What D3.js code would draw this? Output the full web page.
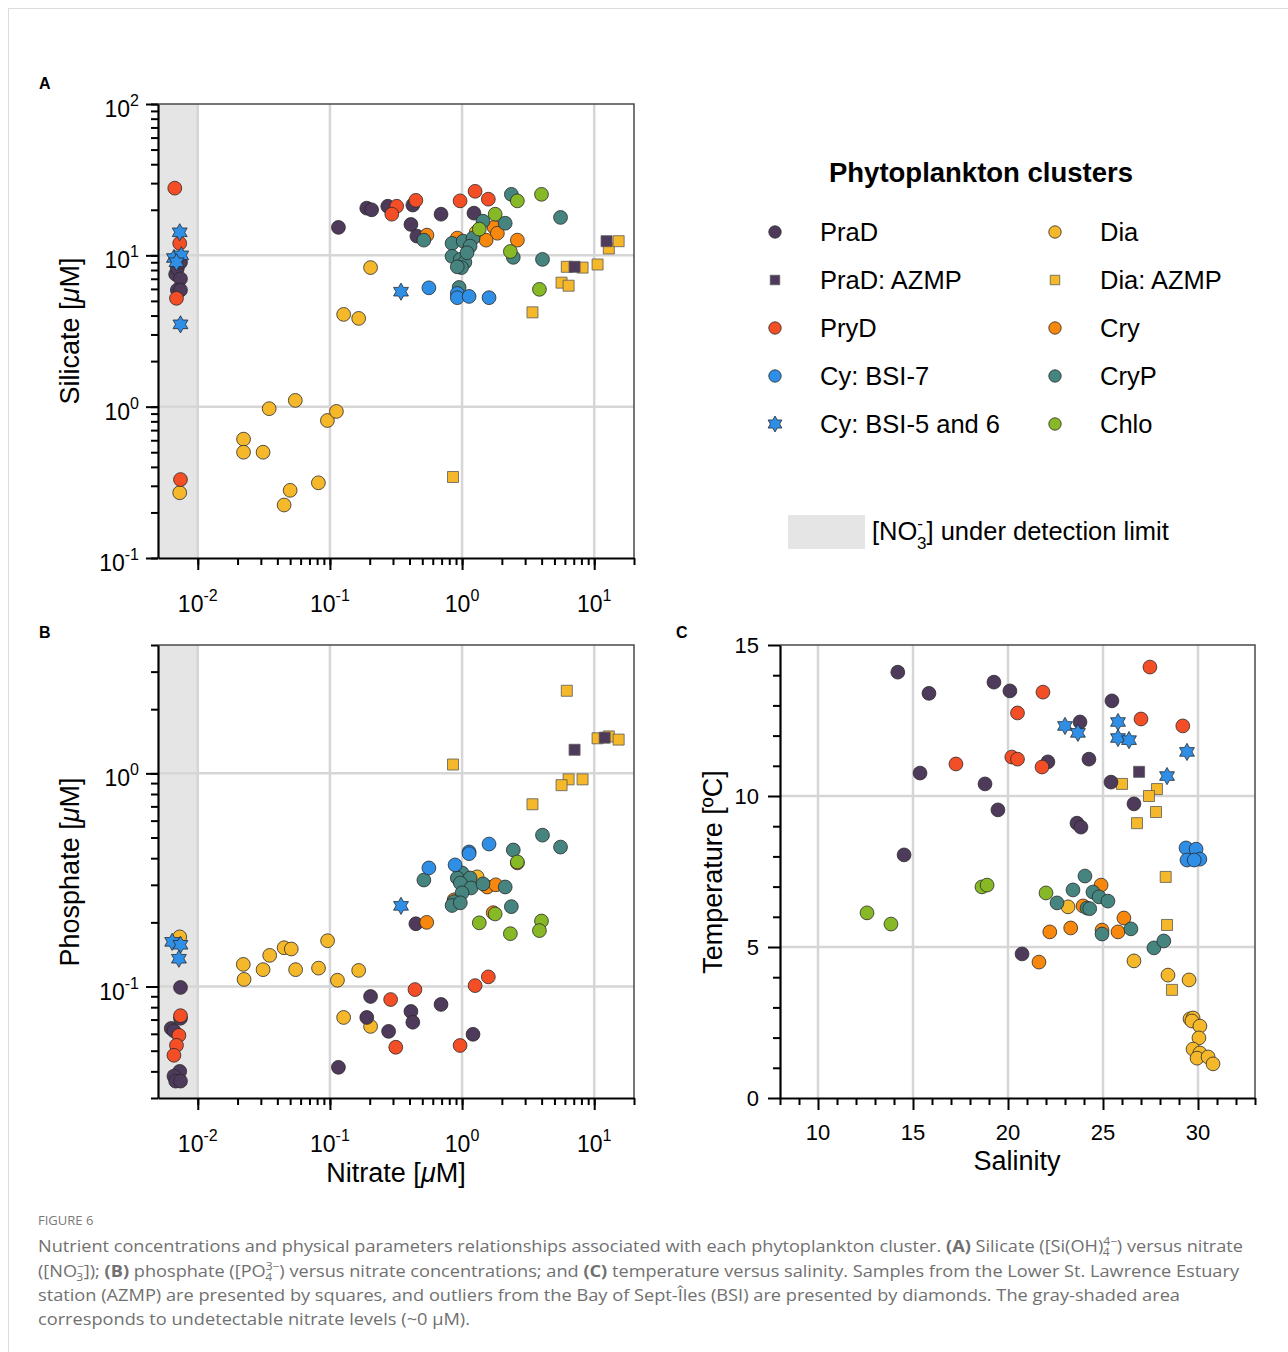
<!DOCTYPE html>
<html><head><meta charset="utf-8">
<script src="https://cdn.jsdelivr.net/npm/d3@7"></script>
<style>body{margin:0;background:#fff;} svg{display:block;font-family:"Liberation Sans",Arial,sans-serif;}</style>
</head><body><svg id="c" width="1288" height="1352"></svg>
<script>
// ---------- categories ----------
const clusters = ["PraD","PraD: AZMP","PryD","Cy: BSI-7","Cy: BSI-5 and 6","Dia","Dia: AZMP","Cry","CryP","Chlo"];
const clusterColors = ["#4e3a5a","#4e3a5a","#f44e27","#2f8ee5","#2f8ee5","#f5b82b","#f5b82b","#f8870d","#45847f","#87b826"];
const clusterShapes = ["circle","square","circle","circle","star","circle","square","circle","circle","circle"];
const drawOrder = ["Dia","Dia: AZMP","PraD","PraD: AZMP","PryD","Cry","CryP","Cy: BSI-7","Chlo","Cy: BSI-5 and 6"];

// ---------- Panel A: [cluster, nitrate µM, silicate µM] ----------
const silicateVsNitrate = [
 ["PraD",0.0068,7.5],["PraD",0.0070,8.2],["PraD",0.0074,9.0],["PraD",0.0074,7.0],["PraD",0.0070,5.9],["PraD",0.0074,5.9],
 ["PraD",0.116,15.3],["PraD",0.19,20.5],["PraD",0.207,20.0],["PraD",0.274,21.1],["PraD",0.424,21.5],["PraD",0.41,16.0],["PraD",0.455,13.4],["PraD",0.693,18.7],["PraD",1.23,19.0],
 ["PraD: AZMP",7.1,8.4],["PraD: AZMP",12.4,12.4],
 ["PryD",0.0067,27.8],["PryD",0.0073,12.0],["PryD",0.0069,5.2],["PryD",0.0074,0.33],["PryD",0.32,21.1],["PryD",0.294,18.7],["PryD",0.447,23.1],["PryD",0.966,22.9],["PryD",1.255,26.5],["PryD",1.58,23.5],
 ["Cy: BSI-7",0.561,6.1],["Cy: BSI-7",0.92,5.6],["Cy: BSI-7",0.92,5.25],["Cy: BSI-7",1.13,5.35],["Cy: BSI-7",1.6,5.25],
 ["Cy: BSI-5 and 6",0.0073,14.2],["Cy: BSI-5 and 6",0.0066,9.6],["Cy: BSI-5 and 6",0.0075,10.0],["Cy: BSI-5 and 6",0.0069,9.0],["Cy: BSI-5 and 6",0.0074,3.5],["Cy: BSI-5 and 6",0.345,5.75],
 ["Dia",0.0073,0.27],["Dia",0.0222,0.61],["Dia",0.0222,0.50],["Dia",0.0312,0.50],["Dia",0.0347,0.97],["Dia",0.0547,1.1],["Dia",0.050,0.28],["Dia",0.045,0.224],["Dia",0.0818,0.314],["Dia",0.0957,0.81],["Dia",0.112,0.93],["Dia",0.203,8.3],["Dia",0.127,4.07],["Dia",0.165,3.83],["Dia",1.28,14.2],
 ["Dia: AZMP",0.854,0.343],["Dia: AZMP",3.41,4.2],["Dia: AZMP",5.66,6.6],["Dia: AZMP",6.4,6.3],["Dia: AZMP",6.2,8.4],["Dia: AZMP",8.16,8.3],["Dia: AZMP",10.6,8.7],["Dia: AZMP",12.9,11.1],["Dia: AZMP",15.3,12.4],
 ["Cry",0.542,13.6],["Cry",1.75,15.3],["Cry",1.85,14.0],["Cry",1.52,12.6],["Cry",2.62,12.6],["Cry",0.92,13.0],
 ["CryP",0.514,12.6],["CryP",2.36,25.3],["CryP",5.56,17.8],["CryP",1.44,16.8],["CryP",2.12,16.3],["CryP",0.84,12.0],["CryP",1.02,12.4],["CryP",1.21,13.0],["CryP",1.15,11.5],["CryP",0.84,9.85],["CryP",0.97,9.4],["CryP",1.05,9.0],["CryP",0.99,8.3],["CryP",0.92,8.4],["CryP",1.09,10.4],["CryP",2.44,9.7],["CryP",4.06,9.4],["CryP",0.95,6.13],
 ["Chlo",2.62,22.9],["Chlo",3.99,25.3],["Chlo",1.78,18.7],["Chlo",1.35,14.9],["Chlo",2.32,10.6],["Chlo",3.85,5.96]
];

// ---------- Panel B: [cluster, nitrate µM, phosphate µM] ----------
const phosphateVsNitrate = [
 ["PraD",0.0074,0.099],["PraD",0.0074,0.071],["PraD",0.0063,0.0636],["PraD",0.0066,0.062],["PraD",0.0073,0.040],["PraD",0.0066,0.038],["PraD",0.0068,0.036],["PraD",0.0074,0.036],
 ["PraD",0.116,0.0418],["PraD",0.203,0.0898],["PraD",0.19,0.0716],["PraD",0.278,0.0616],["PraD",0.41,0.0764],["PraD",0.424,0.068],["PraD",0.693,0.0824],["PraD",1.21,0.0597],["PraD",0.447,0.197],
 ["PraD: AZMP",7.1,1.29],["PraD: AZMP",12.0,1.47],
 ["PryD",0.0074,0.073],["PryD",0.0072,0.059],["PryD",0.0069,0.053],["PryD",0.0066,0.0476],["PryD",0.288,0.0869],["PryD",0.315,0.0519],["PryD",0.44,0.0968],["PryD",0.966,0.0529],["PryD",1.255,0.101],["PryD",1.58,0.111],
 ["Cy: BSI-7",1.6,0.466],["Cy: BSI-7",1.13,0.428],["Cy: BSI-7",1.13,0.42],["Cy: BSI-7",0.561,0.36],["Cy: BSI-7",0.885,0.372],
 ["Cy: BSI-5 and 6",0.0064,0.162],["Cy: BSI-5 and 6",0.0074,0.157],["Cy: BSI-5 and 6",0.0072,0.135],["Cy: BSI-5 and 6",0.345,0.239],
 ["Dia",0.0073,0.171],["Dia",0.0221,0.127],["Dia",0.0224,0.108],["Dia",0.0312,0.12],["Dia",0.035,0.14],["Dia",0.045,0.152],["Dia",0.051,0.15],["Dia",0.055,0.12],["Dia",0.082,0.122],["Dia",0.096,0.164],["Dia",0.114,0.107],["Dia",0.165,0.119],["Dia",0.127,0.0716],["Dia",0.203,0.065],["Dia",1.3,0.327],
 ["Dia: AZMP",6.2,2.44],["Dia: AZMP",10.6,1.46],["Dia: AZMP",12.9,1.49],["Dia: AZMP",15.3,1.44],["Dia: AZMP",0.854,1.10],["Dia: AZMP",6.4,0.937],["Dia: AZMP",8.16,0.937],["Dia: AZMP",5.66,0.88],["Dia: AZMP",3.41,0.716],
 ["Cry",0.54,0.2],["Cry",1.72,0.222],["Cry",1.55,0.293],["Cry",1.8,0.3],["Cry",0.87,0.255],["Cry",2.62,0.38],
 ["CryP",2.36,0.237],["CryP",4.06,0.513],["CryP",5.56,0.451],["CryP",2.44,0.437],["CryP",0.514,0.316],["CryP",1.0,0.341],["CryP",0.92,0.323],["CryP",1.15,0.323],["CryP",0.97,0.306],["CryP",1.17,0.29],["CryP",1.44,0.303],["CryP",2.12,0.293],["CryP",1.0,0.275],["CryP",0.87,0.25],["CryP",0.84,0.24],["CryP",0.97,0.247],
 ["Chlo",1.35,0.199],["Chlo",1.78,0.219],["Chlo",2.32,0.177],["Chlo",3.99,0.203],["Chlo",3.85,0.183],["Chlo",2.62,0.384]
];

// ---------- Panel C: [cluster, salinity, temperature °C] ----------
const temperatureVsSalinity = [
 ["PraD",14.2,14.1],["PraD",15.84,13.4],["PraD",19.26,13.77],["PraD",20.1,13.48],["PraD",25.47,13.15],["PraD",23.79,12.45],["PraD",22.1,11.13],["PraD",24.26,11.22],["PraD",15.37,10.76],["PraD",18.79,10.4],["PraD",25.42,10.46],["PraD",19.47,9.54],["PraD",26.63,9.74],["PraD",23.63,9.1],["PraD",23.84,8.97],["PraD",14.53,8.05],["PraD",20.74,4.77],
 ["PraD: AZMP",26.9,10.8],
 ["PryD",27.47,14.27],["PryD",21.84,13.44],["PryD",20.5,12.75],["PryD",27.0,12.55],["PryD",29.2,12.32],["PryD",20.2,11.29],["PryD",20.5,11.22],["PryD",17.26,11.06],["PryD",21.79,10.96],
 ["Cy: BSI-7",29.37,8.28],["Cy: BSI-7",29.9,8.24],["Cy: BSI-7",29.42,7.88],["Cy: BSI-7",30.1,7.91],["Cy: BSI-7",29.8,7.88],
 ["Cy: BSI-5 and 6",23.0,12.32],["Cy: BSI-5 and 6",23.68,12.09],["Cy: BSI-5 and 6",25.79,12.45],["Cy: BSI-5 and 6",25.79,11.92],["Cy: BSI-5 and 6",26.37,11.85],["Cy: BSI-5 and 6",29.42,11.46],["Cy: BSI-5 and 6",28.37,10.66],
 ["Dia",23.16,6.33],["Dia",26.63,4.54],["Dia",28.42,4.07],["Dia",29.53,3.91],["Dia",29.58,2.62],["Dia",29.74,2.65],["Dia",29.68,2.55],["Dia",30.1,2.38],["Dia",30.05,1.99],["Dia",29.74,1.62],["Dia",30.1,1.49],["Dia",29.95,1.32],["Dia",30.53,1.36],["Dia",30.79,1.13],
 ["Dia: AZMP",26.0,10.4],["Dia: AZMP",27.84,10.23],["Dia: AZMP",27.42,10.0],["Dia: AZMP",27.79,9.47],["Dia: AZMP",26.79,9.1],["Dia: AZMP",28.3,7.32],["Dia: AZMP",28.37,5.73],["Dia: AZMP",28.63,3.58],
 ["Cry",24.9,7.05],["Cry",23.95,6.36],["Cry",26.1,5.96],["Cry",22.2,5.5],["Cry",23.3,5.63],["Cry",24.95,5.56],["Cry",25.79,5.5],["Cry",21.63,4.5],
 ["CryP",24.05,7.35],["CryP",23.42,6.89],["CryP",24.47,6.82],["CryP",24.79,6.66],["CryP",25.26,6.52],["CryP",22.58,6.46],["CryP",24.16,6.29],["CryP",24.3,6.27],["CryP",24.95,5.43],["CryP",26.47,5.6],["CryP",27.68,4.97],["CryP",28.2,5.2],
 ["Chlo",12.58,6.13],["Chlo",13.84,5.76],["Chlo",18.63,6.99],["Chlo",18.9,7.05],["Chlo",22.0,6.79]
];

// ---------- ticks ----------
const nitrateMajorTicks = [0.01,0.1,1,10];
const nitrateTickExponents = ["-2","-1","0","1"];
const silicateMajorTicks = [100,10,1,0.1];
const silicateTickExponents = ["2","1","0","-1"];
const phosphateMajorTicks = [1,0.1];
const phosphateTickExponents = ["0","-1"];
const salinityTicks = [10,15,20,25,30];
const temperatureTicks = [0,5,10,15];

// ---------- drawing ----------
const svg = d3.select("#c");
const colorOf = d3.scaleOrdinal(clusters, clusterColors);
const shapeOf = d3.scaleOrdinal(clusters, clusterShapes);
const hexagram = { draw(ctx, size){ const R = Math.sqrt(size); const r = R/Math.sqrt(3);
  for(let i=0;i<12;i++){ const a = -Math.PI/2 + i*Math.PI/6; const rr = i%2 ? r : R;
    const px = rr*Math.cos(a), py = rr*Math.sin(a); if(i===0) ctx.moveTo(px,py); else ctx.lineTo(px,py);} ctx.closePath(); } };
const symPath = {
  circle: d3.symbol(d3.symbolCircle, Math.PI*6.9*6.9)(),
  square: d3.symbol(d3.symbolSquare, 11*11)(),
  star: d3.symbol(hexagram, 8.6*8.6)()
};

svg.append("rect").attr("x",8.5).attr("y",8.5).attr("width",1290).attr("height",1360).attr("fill","none").attr("stroke","#dcdcdc");

function minorLog(domain, from){
  const out=[]; const lo=Math.floor(Math.log10(domain[0])), hi=Math.ceil(Math.log10(domain[1]));
  for(let e=lo;e<=hi;e++) for(let k=1;k<10;k++){ const v=k*Math.pow(10,e);
    if(v>=Math.max(domain[0],from)*0.9999 && v<=domain[1]*1.0001) out.push(v);} return out;
}

function panel(cfg){
  const g = svg.append("g");
  const {x,y} = cfg;
  const [left,right] = x.range(); const [bottom,top] = y.range();
  if(cfg.band) g.append("rect").attr("x",left).attr("y",top).attr("width",x(cfg.band)-left).attr("height",bottom-top).attr("fill","#e5e5e5");
  g.selectAll(null).data(cfg.gridX).join("line").attr("x1",d=>x(d)).attr("x2",d=>x(d)).attr("y1",top).attr("y2",bottom).attr("stroke","#d6d6d6").attr("stroke-width",2.5);
  g.selectAll(null).data(cfg.gridY).join("line").attr("y1",d=>y(d)).attr("y2",d=>y(d)).attr("x1",left).attr("x2",right).attr("stroke","#d6d6d6").attr("stroke-width",2.5);
  g.append("path").attr("d",`M${left},${top}H${right}V${bottom}`).attr("fill","none").attr("stroke","#4a4a4a").attr("stroke-width",1.5);
  const pts = cfg.data.slice().sort((a,b)=>drawOrder.indexOf(a[0])-drawOrder.indexOf(b[0]));
  g.selectAll(null).data(pts).join("path")
    .attr("d",d=>symPath[shapeOf(d[0])])
    .attr("transform",d=>`translate(${x(d[1])},${y(d[2])})`)
    .attr("fill",d=>colorOf(d[0]))
    .attr("stroke",d=>shapeOf(d[0])==="square"?"#5a5a5a":"#2a2a2a")
    .attr("stroke-width",0.8);
  const styleAxis = s => { s.selectAll(".domain").attr("stroke","#000").attr("stroke-width",2.2);
    s.selectAll(".tick line").attr("stroke","#000").attr("stroke-width",2); s.selectAll("text").remove(); };
  g.append("g").attr("transform",`translate(0,${bottom})`).call(d3.axisBottom(x).tickValues(cfg.xMinor).tickSize(7).tickSizeOuter(0)).call(styleAxis).select(".domain").remove();
  g.append("g").attr("transform",`translate(${left},0)`).call(d3.axisLeft(y).tickValues(cfg.yMinor).tickSize(7).tickSizeOuter(0)).call(styleAxis).select(".domain").remove();
  g.append("g").attr("transform",`translate(0,${bottom})`).call(d3.axisBottom(x).tickValues(cfg.xMajor).tickSize(12).tickSizeOuter(0)).call(styleAxis);
  g.append("g").attr("transform",`translate(${left},0)`).call(d3.axisLeft(y).tickValues(cfg.yMajor).tickSize(12).tickSizeOuter(0)).call(styleAxis);
  return g;
}

function powLabel(g, px, py, exp, anchor){
  const t = g.append("text").attr("x",px).attr("y",py).attr("text-anchor",anchor).attr("font-size",23).attr("fill","#000");
  t.append("tspan").text("10");
  t.append("tspan").attr("font-size",16).attr("dy",-11).text(exp);
}

// Panel A
const xA = d3.scaleLog([0.005,20],[158,634]);
const yA = d3.scaleLog([0.1,100],[558,104]);
const gA = panel({x:xA,y:yA,data:silicateVsNitrate,band:0.01,
  gridX:nitrateMajorTicks,gridY:[10,1],
  xMajor:nitrateMajorTicks,xMinor:minorLog([0.005,20],0.01),
  yMajor:silicateMajorTicks,yMinor:minorLog([0.1,100],0.1)});
nitrateMajorTicks.forEach((v,i)=>powLabel(gA,xA(v),612,nitrateTickExponents[i],"middle"));
silicateMajorTicks.forEach((v,i)=>powLabel(gA,139,yA(v)+13,silicateTickExponents[i],"end"));

// Panel B
const xB = d3.scaleLog([0.005,20],[158,634]);
const yB = d3.scaleLog([0.03,4],[1098,645]);
const gB = panel({x:xB,y:yB,data:phosphateVsNitrate,band:0.01,
  gridX:nitrateMajorTicks,gridY:phosphateMajorTicks,
  xMajor:nitrateMajorTicks,xMinor:minorLog([0.005,20],0.01),
  yMajor:phosphateMajorTicks,yMinor:minorLog([0.03,4],0.03)});
nitrateMajorTicks.forEach((v,i)=>powLabel(gB,xB(v),1152,nitrateTickExponents[i],"middle"));
phosphateMajorTicks.forEach((v,i)=>powLabel(gB,139,yB(v)+13,phosphateTickExponents[i],"end"));

// Panel C
const xC = d3.scaleLinear([8,33],[780,1255]);
const yC = d3.scaleLinear([0,15],[1098,645]);
const gC = panel({x:xC,y:yC,data:temperatureVsSalinity,
  gridX:salinityTicks,gridY:[5,10],
  xMajor:salinityTicks,xMinor:d3.range(8,34).filter(v=>v%5),
  yMajor:temperatureTicks,yMinor:d3.range(0,16).filter(v=>v%5)});
salinityTicks.forEach(v=>gC.append("text").attr("x",xC(v)).attr("y",1140).attr("text-anchor","middle").attr("font-size",22).text(v));
temperatureTicks.forEach(v=>gC.append("text").attr("x",759).attr("y",yC(v)+8).attr("text-anchor","end").attr("font-size",22).text(v));

// axis titles
function title(txt, px, py, rot, unitItalic){
  const t = svg.append("text").attr("transform",`translate(${px},${py}) rotate(${rot})`).attr("text-anchor","middle").attr("font-size",27).attr("fill","#000");
  t.append("tspan").text(txt);
  if(unitItalic){ t.append("tspan").text(" ["); t.append("tspan").attr("font-style","italic").text("μ"); t.append("tspan").text("M]"); }
  return t;
}
title("Silicate",79,331,-90,true);
title("Phosphate",79,872,-90,true);
title("Nitrate",396,1182,0,true);
title("Temperature [ºC]",722,872,-90,false);
title("Salinity",1017,1170,0,false);

// panel letters
[["A",39,89],["B",39,638],["C",676,638]].forEach(([t,px,py])=>svg.append("text").attr("x",px).attr("y",py).attr("font-size",16).attr("font-weight","bold").text(t));

// legend
const leg = svg.append("g");
leg.append("text").attr("x",981).attr("y",182).attr("text-anchor","middle").attr("font-size",27.5).attr("font-weight","bold").text("Phytoplankton clusters");
const legendSym = {
  circle: d3.symbol(d3.symbolCircle, Math.PI*6.2*6.2)(),
  square: d3.symbol(d3.symbolSquare, 9.5*9.5)(),
  star: d3.symbol(hexagram, 8*8)()
};
const legendLeft = ["PraD","PraD: AZMP","PryD","Cy: BSI-7","Cy: BSI-5 and 6"];
const legendRight = ["Dia","Dia: AZMP","Cry","CryP","Chlo"];
[[legendLeft,775,820],[legendRight,1055,1100]].forEach(([list,sx,tx])=>{
  list.forEach((c,i)=>{
    const cy = 232 + i*48;
    leg.append("path").attr("d",legendSym[shapeOf(c)]).attr("transform",`translate(${sx},${cy})`)
      .attr("fill",colorOf(c)).attr("stroke",shapeOf(c)==="square"?"#5a5a5a":"#2a2a2a").attr("stroke-width",0.8);
    leg.append("text").attr("x",tx).attr("y",cy+9).attr("font-size",25.5).text(c);
  });
});
leg.append("rect").attr("x",788).attr("y",515).attr("width",77).attr("height",34).attr("fill","#e5e5e5");
const nt = leg.append("text").attr("x",872).attr("y",540).attr("font-size",25.5);
nt.append("tspan").text("[NO");
nt.append("tspan").attr("font-size",17).attr("dy",-11).text("-");
nt.append("tspan").attr("font-size",17).attr("dx",-6).attr("dy",20).text("3");
nt.append("tspan").attr("dy",-9).text("] under detection limit");

// caption
const cap = svg.append("g").attr("font-family","'Open Sans',sans-serif").attr("fill","#707070");
cap.append("text").attr("x",38).attr("y",1225).attr("font-size",13).attr("fill","#7a7a7a").text("FIGURE 6");
function capLine(y, parts, width){
  const t = cap.append("text").attr("x",38).attr("y",y).attr("font-size",16.5);
  let pendDy = 0, pendDx = 0;
  const add = (txt, bold) => { const s = t.append("tspan").text(txt); if(bold) s.attr("font-weight","bold");
    if(pendDy) s.attr("dy",pendDy); if(pendDx) s.attr("dx",pendDx); pendDy=0; pendDx=0; };
  parts.forEach(p=>{
    if(typeof p === "string") add(p,false);
    else if(p.b) add(p.b,true);
    else if(p.ss){ // stacked sup/sub
      t.append("tspan").attr("font-size",11).attr("dy",-7).text(p.ss[0]);
      t.append("tspan").attr("font-size",11).attr("dx",-p.w).attr("dy",11).text(p.ss[1]);
      pendDy = -4; pendDx = p.w - p.ws;
    }
  });
  if(width) t.attr("textLength",width).attr("lengthAdjust","spacingAndGlyphs");
}
capLine(1252,["Nutrient concentrations and physical parameters relationships associated with each phytoplankton cluster. ",{b:"(A)"}," Silicate ([Si(OH)",{ss:["4−","4"],w:13,ws:6.5},") versus nitrate"],1205);
capLine(1277,["([NO",{ss:["−","3"],w:7,ws:6.5},"]); ",{b:"(B)"}," phosphate ([PO",{ss:["3−","4"],w:13,ws:6.5},") versus nitrate concentrations; and ",{b:"(C)"}," temperature versus salinity. Samples from the Lower St. Lawrence Estuary"],1201);
capLine(1301,["station (AZMP) are presented by squares, and outliers from the Bay of Sept-Îles (BSI) are presented by diamonds. The gray-shaded area"],1142);
capLine(1325,["corresponds to undetectable nitrate levels (~0 μM)."],432);
</script></body></html>
